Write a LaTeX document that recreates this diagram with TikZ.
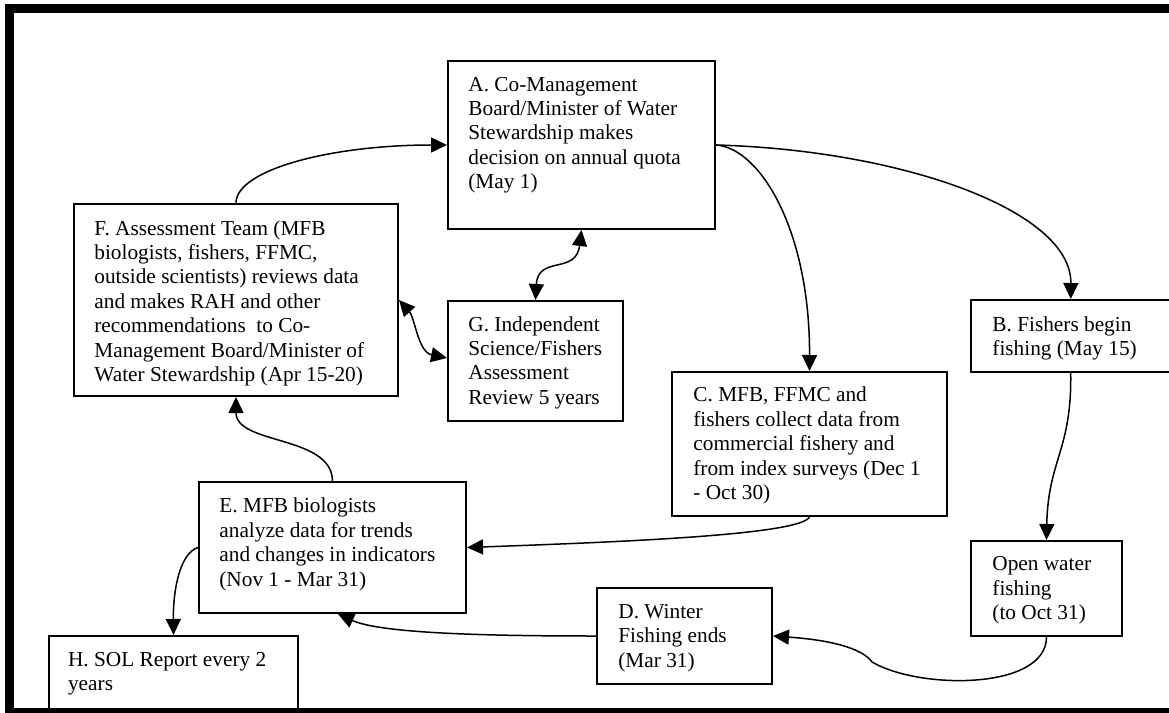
\documentclass[tikz,border=0pt]{standalone}
\usepackage{fontspec}
\setmainfont{Liberation Serif}
\usetikzlibrary{arrows.meta,calc}
\newcommand\bt[1]{\parbox[t]{250pt}{\raggedright #1}}
\begin{document}
\begin{tikzpicture}[x=0.5pt,y=-0.5pt,
  box/.style={draw, line width=1pt, fill=white, rectangle, inner sep=0pt},
  txt/.style={anchor=base west, inner sep=0pt, font=\fontsize{10.65pt}{12.22pt}\selectfont},
  arr/.style={line width=0.75pt, -{Triangle[length=8pt,width=7.5pt]}},
  dbl/.style={line width=0.75pt, {Triangle[length=8pt,width=7.5pt]}-{Triangle[length=8pt,width=7.5pt]}}]
\useasboundingbox (0,0) rectangle (1169,713);
% boxes
\node[box, minimum width=133.5pt, minimum height=84pt] (A) at (581.5,145) {};
\node[box, minimum width=162pt, minimum height=96pt] (F) at (236,300) {};
\node[box, minimum width=87.5pt, minimum height=60pt] (G) at (535.5,361) {};
\node[box, minimum width=137.5pt, minimum height=72pt] (C) at (809.5,444) {};
\node[box, minimum width=107pt, minimum height=36pt] (B) at (1078,336) {};
\node[box, minimum width=75.5pt, minimum height=47.5pt] (O) at (1046.5,588.5) {};
\node[box, minimum width=87.5pt, minimum height=48pt] (D) at (684.5,636) {};
\node[box, minimum width=133.5pt, minimum height=65.5pt] (E) at (332.5,547.5) {};
\node[box, minimum width=124.5pt, minimum height=38pt] (H) at (173.5,674) {};
% texts
\node[txt] (At) at (468,91) {\bt{A. Co-Management\\Board/Minister of Water\\Stewardship makes\\decision on annual quota\\(May 1)}};
\node[txt] (Ft) at (94,235) {\bt{F. Assessment Team (MFB\\biologists, fishers, FFMC,\\outside scientists) reviews data\\and makes RAH and other\\recommendations\ \ to Co-\\Management Board/Minister of\\Water Stewardship (Apr 15-20)}};
\node[txt] (Gt) at (468,331) {\bt{G. Independent\\Science/Fishers\\Assessment\\Review 5 years}};
\node[txt] (Ct) at (693,401.7) {\bt{C. MFB, FFMC and\\fishers collect data from\\commercial fishery and\\from index surveys (Dec 1\\- Oct 30)}};
\node[txt] (Bt) at (992,331) {\bt{B. Fishers begin\\fishing (May 15)}};
\node[txt] (Ot) at (992,570.7) {\bt{Open water\\fishing\\(to Oct 31)}};
\node[txt] (Dt) at (618,618.3) {\bt{D. Winter\\Fishing ends\\(Mar 31)}};
\node[txt] (Et) at (219,512.7) {\bt{E. MFB biologists\\analyze data for trends\\and changes in indicators\\(Nov 1 - Mar 31)}};
\node[txt] (Ht) at (67.7,666) {\bt{H. SOL Report every 2\\years}};
% connectors
\draw[arr] (F.north) .. controls (236,170) and (330,145) .. (A.west);
\draw[arr] (A.east) .. controls (900,150) and (1071.7,210) .. ($(B.north west)+(100.7,0)$);
\draw[arr] (A.east) .. controls (760,148) and (810,230) .. (C.north);
\draw[dbl] (A.south) .. controls (576,275) and (538,255) .. (G.north);
\draw[dbl] (F.east) .. controls (415,318) and (418,352) .. ($(G.west)+(0,-3)$);
\draw[arr] (C.south) .. controls (800,535) and (620,542) .. (E.east);
\draw[arr] (D.west) .. controls (480,636) and (380,633) .. ($(E.south)+(5.5,0)$);
\draw[arr] (E.north) .. controls (332,435) and (236,445) .. (F.south);
\draw[arr] (E.west) .. controls (180,553) and (173,590) .. (H.north);
\draw[arr] ($(B.south west)+(100.7,0)$) .. controls (1072,450) and (1048,460) .. (O.north);
\draw[arr] (O.south) .. controls (1046.5,690) and (920,690) .. (872,662) .. controls (862,648) and (830,640) .. (D.east);
% frame
\draw[line width=4.5pt] (9.5,8.5) rectangle (1175,712.5);
\end{tikzpicture}
\end{document}
